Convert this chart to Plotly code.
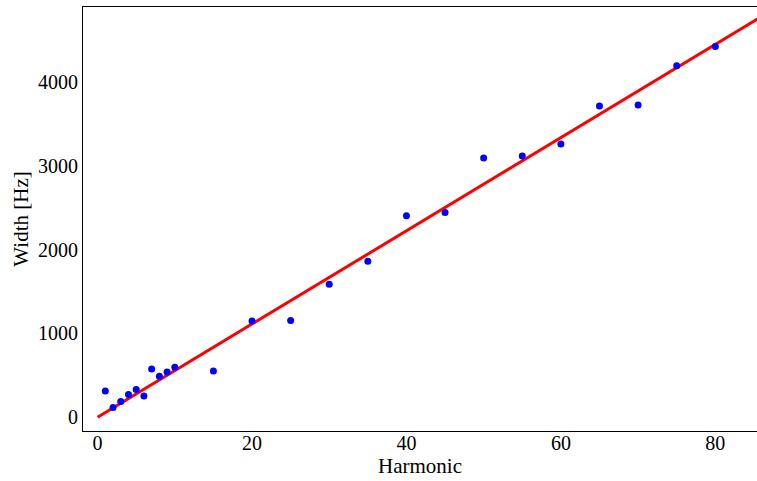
import plotly.graph_objects as go

harmonic = [1, 2, 3, 4, 5, 6, 7, 8, 9, 10, 15, 20, 25, 30, 35, 40, 45, 50, 55, 60, 65, 70, 75, 80]
width_hz = [314, 116, 188, 271, 331, 254, 577, 490, 541, 597, 553, 1150, 1155, 1588, 1863, 2404,
            2444, 3093, 3117, 3260, 3714, 3725, 4194, 4424]
fit_x = [0, 87]
fit_y = [0, 4840]

tickfont = dict(family="Liberation Serif", size=20, color="black")
titlefont = dict(family="Liberation Serif", size=21, color="black")

fig = go.Figure()
fig.add_trace(go.Scatter(x=fit_x, y=fit_y, mode="lines",
                         line=dict(color="#ff0000", width=3), showlegend=False))
fig.add_trace(go.Scatter(x=harmonic, y=width_hz, mode="markers",
                         marker=dict(color="#0000ff", size=7), showlegend=False))

fig.update_layout(
    width=757, height=481,
    margin=dict(l=83, r=0, t=7, b=50),
    paper_bgcolor="white", plot_bgcolor="white",
    font=tickfont,
    xaxis=dict(range=[-1.89, 85.4], tickvals=[0, 20, 40, 60, 80], showgrid=False, zeroline=False,
               showline=True, linecolor="black", linewidth=1, mirror=True, ticks="",
               ticklabelstandoff=-6,
               title=dict(text="Harmonic", font=titlefont, standoff=2), tickfont=tickfont),
    yaxis=dict(range=[-164, 4896], tickvals=[0, 1000, 2000, 3000, 4000], showgrid=False, zeroline=False,
               showline=True, linecolor="black", linewidth=1, mirror=False, ticks="",
               title=dict(text="Width [Hz]", font=titlefont, standoff=3), tickfont=tickfont),
)
fig.write_html("out.html")
